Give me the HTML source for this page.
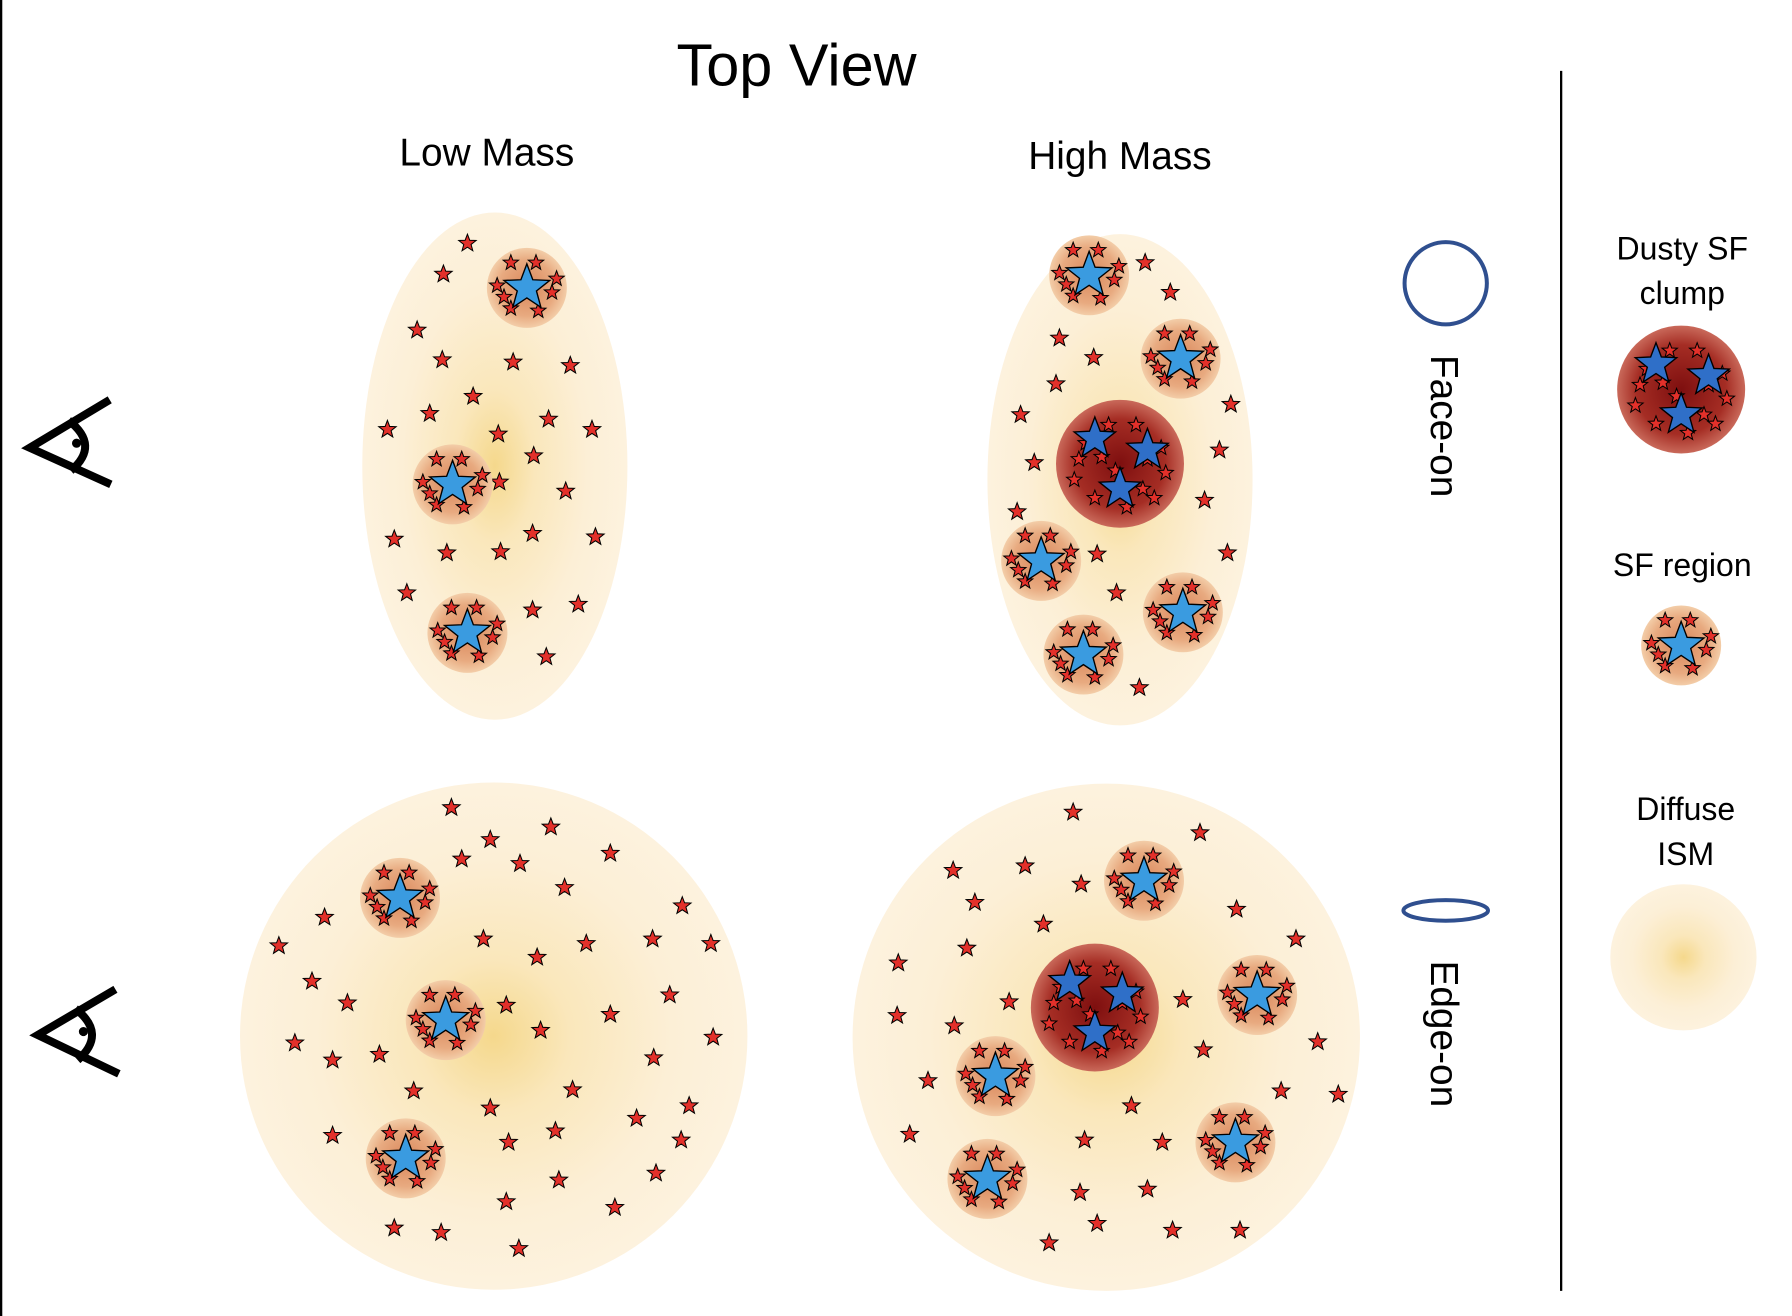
<!DOCTYPE html>
<html><head><meta charset="utf-8"><style>
html,body{margin:0;padding:0;background:#fff}
svg{display:block}
text{font-family:"Liberation Sans",sans-serif;fill:#000}
</style></head><body>
<svg id="fig" width="1792" height="1316" viewBox="0 0 1568 1152" preserveAspectRatio="none" xmlns="http://www.w3.org/2000/svg">
<defs>
<radialGradient id="ism" cx="50%" cy="50%" r="50%">
<stop offset="0" stop-color="#f5d88c"/><stop offset="0.3" stop-color="#fae7bb"/><stop offset="0.7" stop-color="#fcefd6"/><stop offset="1" stop-color="#fdf2de"/>
</radialGradient>
<radialGradient id="sf" cx="50%" cy="50%" r="50%">
<stop offset="0" stop-color="#d9865a"/><stop offset="0.7" stop-color="#e8aa80"/><stop offset="1" stop-color="#f3cda8"/>
</radialGradient>
<radialGradient id="dusty" cx="50%" cy="50%" r="50%">
<stop offset="0" stop-color="#7e0f0f"/><stop offset="0.7" stop-color="#a52d24"/><stop offset="1" stop-color="#c9695a"/>
</radialGradient>
</defs>
<rect x="0" y="0" width="2" height="1152" fill="#000"/>
<line x1="1366" y1="62" x2="1366" y2="1130" stroke="#000" stroke-width="2"/>
<text x="697" y="75" font-size="52" text-anchor="middle">Top View</text>
<text x="426" y="145" font-size="34" text-anchor="middle">Low Mass</text>
<text x="980" y="148" font-size="34" text-anchor="middle">High Mass</text>
<g id="layer"></g>
<circle cx="1265" cy="248" r="36" fill="none" stroke="#2f4f8f" stroke-width="3.5"/>
<ellipse cx="1265" cy="797" rx="37" ry="9" fill="none" stroke="#2f4f8f" stroke-width="3.5"/>
<text transform="translate(1252,373) rotate(90)" font-size="34" text-anchor="middle">Face-on</text>
<text transform="translate(1252,905) rotate(90)" font-size="34" text-anchor="middle">Edge-on</text>
<text x="1472" y="227" font-size="28" text-anchor="middle">Dusty SF</text>
<text x="1472" y="266" font-size="28" text-anchor="middle">clump</text>
<text x="1472" y="504" font-size="28" text-anchor="middle">SF region</text>
<text x="1475" y="718" font-size="28" text-anchor="middle">Diffuse</text>
<text x="1475" y="757" font-size="28" text-anchor="middle">ISM</text>
<g fill="none" stroke="#000" stroke-width="7">
<path d="M96,350 L26,392 L97,424"/><path d="M60,368 Q88,390 62,412"/><circle cx="67" cy="388" r="4" fill="#000" stroke="none"/>
</g>
<g fill="none" stroke="#000" stroke-width="7">
<path d="M101,866 L33,906 L104,940"/><path d="M66,883 Q94,905 68,928"/><circle cx="73" cy="903" r="4" fill="#000" stroke="none"/>
</g>
</svg>
<script>
const panelCenters = [[433,408,116,222],[980,420,116,215],[432,907,222,222],[968,908,222,222]];
const tlStars = [[409,213],[388,240],[365,289],[387,315],[449,317],[499,320],[414,347],[376,362],[339,376],[436,380],[480,367],[518,376],[467,399],[495,430],[437,422],[345,472],[391,484],[438,483],[466,467],[521,470],[356,519],[466,534],[506,529],[478,575]];
const tlSF = [[461,252],[396,424],[409,554]];
const tlDusty = [];
const trStars = [[1002,230],[1024,256],[927,296],[957,313],[924,336],[893,363],[1077,354],[905,405],[1067,394],[1054,438],[890,448],[960,485],[1074,484],[977,519],[997,602]];
const trSF = [[953,241],[1033,314],[911,491],[1035,536],[948,573]];
const trDusty = [[980,406]];
const blStars = [[395,707],[429,735],[482,724],[404,752],[455,756],[534,747],[494,777],[284,803],[597,793],[244,828],[423,822],[470,838],[513,826],[571,822],[622,826],[273,859],[304,878],[443,880],[586,871],[534,888],[473,902],[258,913],[291,928],[332,923],[572,926],[624,908],[362,955],[501,954],[429,970],[603,968],[557,979],[291,994],[445,1000],[486,990],[596,998],[574,1027],[489,1033],[443,1052],[538,1057],[345,1075],[386,1079],[454,1093]];
const blSF = [[350,786],[390,893],[355,1014]];
const blDusty = [];
const brStars = [[939,711],[1050,729],[834,762],[897,758],[946,774],[853,790],[1082,796],[913,809],[1134,822],[786,843],[846,830],[883,877],[1035,875],[785,889],[835,898],[1053,919],[1153,912],[812,946],[1121,955],[1171,958],[990,968],[796,993],[949,998],[1017,1000],[945,1044],[1004,1041],[918,1088],[960,1071],[1026,1077],[1085,1077]];
const brSF = [[1001,771],[1100,871],[871,942],[1081,1000],[864,1032]];
const brDusty = [[958,882]];
const panels = [[tlStars,tlSF,tlDusty],[trStars,trSF,trDusty],[blStars,blSF,blDusty],[brStars,brSF,brDusty]];
const NS='http://www.w3.org/2000/svg';
const layer=document.getElementById('layer');
function starPath(cx,cy,R){let d='';for(let i=0;i<10;i++){const r=i%2?R*0.42:R;const a=-Math.PI/2+i*Math.PI/5;d+=(i?'L':'M')+(cx+r*Math.cos(a)).toFixed(1)+','+(cy+r*Math.sin(a)).toFixed(1);}return d+'Z';}
function star(p,cx,cy,R,fill,name){const s=document.createElementNS(NS,'path');s.setAttribute('d',starPath(cx,cy,R));s.setAttribute('fill',fill);s.setAttribute('stroke','#000');s.setAttribute('stroke-width',R>12?1.2:0.9);


p.appendChild(s);}
function group(name){const g=document.createElementNS(NS,'g');


layer.appendChild(g);return g;}
function sfRegion(g,x,y){const c=document.createElementNS(NS,'circle');c.setAttribute('cx',x);c.setAttribute('cy',y);c.setAttribute('r',35);c.setAttribute('fill','url(#sf)');g.appendChild(c);
const offs=[[-14,-22],[8,-22],[-26,-2],[22,4],[-14,18],[10,20],[-20,8],[26,-8]];
offs.forEach(o=>star(g,x+o[0],y+o[1],7,'#e3302a','sf-small-star'));
star(g,x,y,21,'#3a9be0','sf-blue-star');}
function dusty(g,x,y){const c=document.createElementNS(NS,'circle');c.setAttribute('cx',x);c.setAttribute('cy',y);c.setAttribute('r',56);c.setAttribute('fill','url(#dusty)');g.appendChild(c);
const offs=[[-10,-34],[14,-34],[-36,-4],[-40,14],[36,-14],[40,8],[-22,30],[-30,-18],[30,30],[20,22],[-4,6],[24,-4],[-16,-6],[6,38]];
offs.forEach(o=>star(g,x+o[0],y+o[1],7,'#e3302a','dusty-small-star'));
star(g,x-22,y-22,19,'#2f6fc8','dusty-blue-star');star(g,x+24,y-12,19,'#2f6fc8','dusty-blue-star');star(g,x,y+22,19,'#2f6fc8','dusty-blue-star');}
const names=['low-mass-face-on','high-mass-face-on','low-mass-edge-on','high-mass-edge-on'];
panels.forEach((p,i)=>{const g=group(names[i]);const pc=panelCenters[i];
const e=document.createElementNS(NS,'ellipse');e.setAttribute('cx',pc[0]);e.setAttribute('cy',pc[1]);e.setAttribute('rx',pc[2]);e.setAttribute('ry',pc[3]);e.setAttribute('fill','url(#ism)');


g.appendChild(e);
p[0].forEach(s=>star(g,s[0],s[1],8,'#e3302a','field-star'));
p[1].forEach(s=>sfRegion(g,s[0],s[1]));
p[2].forEach(s=>dusty(g,s[0],s[1]));});
const lg=group('legend-symbols');
dusty(lg,1471,341);sfRegion(lg,1471,565);
const ic=document.createElementNS(NS,'circle');ic.setAttribute('cx',1473);ic.setAttribute('cy',838);ic.setAttribute('r',64);ic.setAttribute('fill','url(#ism)');


lg.appendChild(ic);
</script>
</body></html>
